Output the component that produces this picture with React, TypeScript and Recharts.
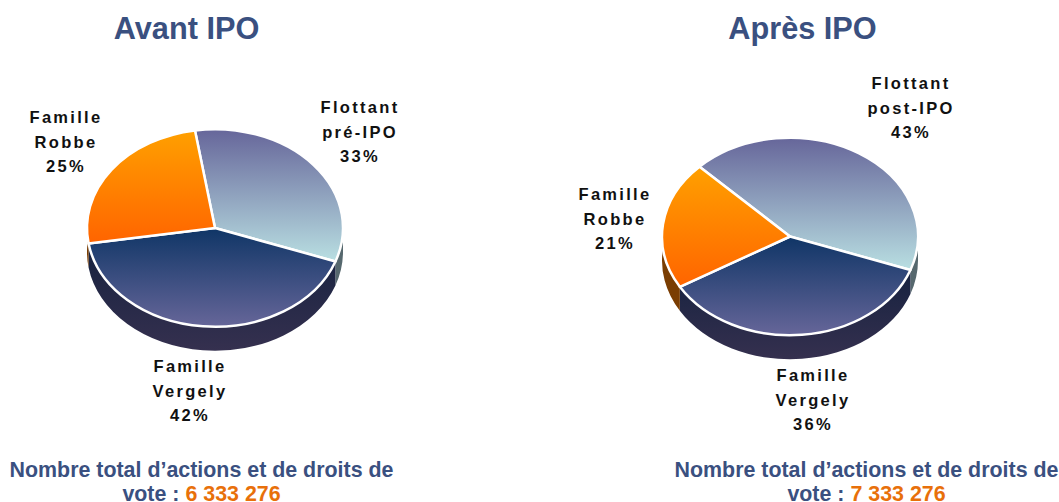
import { Pie, PieChart } from "recharts";

const categories = ["Flottant", "Famille Vergely", "Famille Robbe"];
const avantValues = [33, 42, 25];
const apresValues = [43, 36, 21];
const totals = ["6 333 276", "7 333 276"];

const SQUASH = 98 / 127;
const DEPTH = 24;
const NAVY = "#3a5080";

const topFills = ["url(#topFlottant)", "url(#topVergely)", "url(#topRobbe)"];
const wallFills = ["#56686e", "url(#wallVergely)", "#7a3d02"];

const avantData = categories.map((name, i) => ({ name, value: avantValues[i], fill: topFills[i] }));
const apresData = categories.map((name, i) => ({ name, value: apresValues[i], fill: topFills[i] }));
const wallAvant = categories.map((name, i) => ({ name, value: avantValues[i], fill: wallFills[i] }));
const wallApres = categories.map((name, i) => ({ name, value: apresValues[i], fill: wallFills[i] }));

const rad = (a: number) => (a * Math.PI) / 180;

// the pie is tilted, so sectors are drawn on an ellipse instead of a circle
const TopSector = (props: any) => {
  const { cx, cy, outerRadius: r, startAngle, endAngle, fill } = props;
  const ry = r * SQUASH;
  const x1 = cx + r * Math.cos(rad(startAngle));
  const y1 = cy - ry * Math.sin(rad(startAngle));
  const x2 = cx + r * Math.cos(rad(endAngle));
  const y2 = cy - ry * Math.sin(rad(endAngle));
  const large = Math.abs(endAngle - startAngle) > 180 ? 1 : 0;
  return (
    <path
      d={`M${cx},${cy} L${x1},${y1} A${r},${ry} 0 ${large} 1 ${x2},${y2} Z`}
      fill={fill}
      stroke="#fff"
      strokeWidth={2.5}
      strokeLinejoin="round"
    />
  );
};

// side wall: only the front half of the ellipse can be seen
const WallSector = (props: any) => {
  const { cx, cy, outerRadius: r, startAngle, endAngle, fill } = props;
  const ry = r * SQUASH;
  const norm = (a: number) => (a > 180 ? a - 360 : a);
  let from = norm(startAngle);
  let to = norm(endAngle);
  if (from > 0 && to > 0 && from > to) return null;
  if (from > 0 && to < 0) from = 0;
  if (to > 0 && from <= 0) to = -180;
  if (from <= to) return null;
  const x1 = cx + r * Math.cos(rad(from));
  const y1 = cy - ry * Math.sin(rad(from));
  const x2 = cx + r * Math.cos(rad(to));
  const y2 = cy - ry * Math.sin(rad(to));
  return (
    <path
      d={`M${x1},${y1} A${r},${ry} 0 0 1 ${x2},${y2} L${x2},${y2 + DEPTH} A${r},${ry} 0 0 0 ${x1},${y1 + DEPTH} Z`}
      fill={fill}
    />
  );
};

const sliceLabel = {
  position: "absolute" as const,
  transform: "translateX(-50%)",
  textAlign: "center" as const,
  fontFamily: "'Liberation Sans', Arial, sans-serif",
  fontWeight: 700,
  fontSize: 16.5,
  lineHeight: "24.5px",
  letterSpacing: 2.3,
  color: "#111",
  whiteSpace: "pre" as const,
};

const SliceLabel = ({ x, y, lines }: { x: number; y: number; lines: string[] }) => (
  <div style={{ ...sliceLabel, left: x, top: y }}>
    {lines.map((l) => (
      <div key={l}>{l}</div>
    ))}
  </div>
);

const Title = ({ x, text }: { x: number; text: string }) => (
  <div
    style={{
      position: "absolute",
      left: x,
      top: 11,
      transform: "translateX(-50%)",
      fontFamily: "'Liberation Sans', Arial, sans-serif",
      fontWeight: 700,
      fontSize: 30.7,
      lineHeight: "36px",
      color: NAVY,
      whiteSpace: "nowrap",
    }}
  >
    {text}
  </div>
);

const Total = ({ x, value }: { x: number; value: string }) => (
  <div
    style={{
      position: "absolute",
      left: x,
      top: 458,
      transform: "translateX(-50%)",
      textAlign: "center",
      fontFamily: "'Liberation Sans', Arial, sans-serif",
      fontWeight: 700,
      fontSize: 21.4,
      lineHeight: "24px",
      color: NAVY,
      whiteSpace: "nowrap",
    }}
  >
    <div>Nombre total d’actions et de droits de</div>
    <div>
      vote : <span style={{ color: "#e8700a" }}>{value}</span>
    </div>
  </div>
);

const Grad = ({ id, from, to }: { id: string; from: string; to: string }) => (
  <linearGradient id={id} x1="0" y1="0" x2="0" y2="1">
    <stop offset="0%" stopColor={from} />
    <stop offset="100%" stopColor={to} />
  </linearGradient>
);

export default function App() {
  return (
    <div style={{ position: "absolute", left: 0, top: 0, width: 1059, height: 502, background: "#fff", overflow: "hidden" }}>
      <PieChart width={1059} height={502} margin={{ top: 0, right: 0, bottom: 0, left: 0 }}>
        <defs>
          <Grad id="topFlottant" from="#66669a" to="#b9dfe2" />
          <Grad id="topVergely" from="#0f3566" to="#666699" />
          <Grad id="topRobbe" from="#ffa000" to="#ff6400" />
          <Grad id="wallVergely" from="#16223f" to="#35304f" />
        </defs>
        {/* Avant IPO */}
        <Pie data={wallAvant} dataKey="value" cx={215} cy={228} outerRadius={128} startAngle={99} endAngle={-261}
          paddingAngle={0} stroke="none" shape={WallSector} isAnimationActive={false} />
        <Pie data={avantData} dataKey="value" cx={215} cy={228} outerRadius={128} startAngle={99} endAngle={-261}
          paddingAngle={0} shape={TopSector} isAnimationActive={false} />
        {/* Après IPO */}
        <Pie data={wallApres} dataKey="value" cx={790} cy={236.5} outerRadius={128} startAngle={135} endAngle={-225}
          paddingAngle={0} stroke="none" shape={WallSector} isAnimationActive={false} />
        <Pie data={apresData} dataKey="value" cx={790} cy={236.5} outerRadius={128} startAngle={135} endAngle={-225}
          paddingAngle={0} shape={TopSector} isAnimationActive={false} />
      </PieChart>

      <Title x={186.5} text="Avant IPO" />
      <Title x={802.5} text="Après IPO" />

      <SliceLabel x={360} y={95} lines={["Flottant", "pré-IPO", `${avantValues[0]}%`]} />
      <SliceLabel x={66} y={105} lines={["Famille", "Robbe", `${avantValues[2]}%`]} />
      <SliceLabel x={190} y={354} lines={["Famille", "Vergely", `${avantValues[1]}%`]} />

      <SliceLabel x={911} y={71} lines={["Flottant", "post-IPO", `${apresValues[0]}%`]} />
      <SliceLabel x={615} y={182} lines={["Famille", "Robbe", `${apresValues[2]}%`]} />
      <SliceLabel x={813} y={363} lines={["Famille", "Vergely", `${apresValues[1]}%`]} />

      <Total x={201.5} value={totals[0]} />
      <Total x={866.5} value={totals[1]} />
    </div>
  );
}
